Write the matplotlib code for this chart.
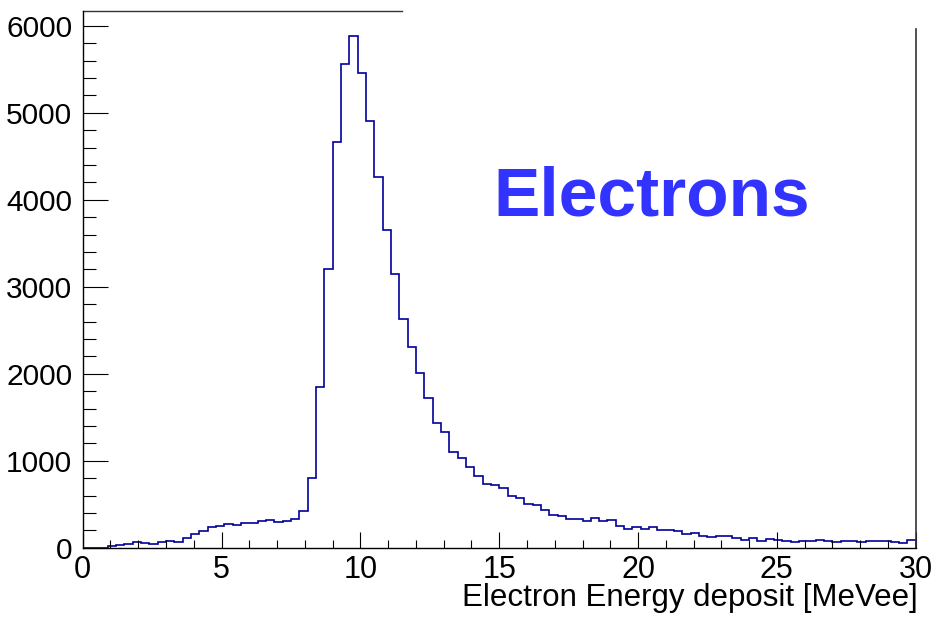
import numpy as np
import matplotlib
matplotlib.use("Agg")
import matplotlib.pyplot as plt
from matplotlib.ticker import MultipleLocator

plt.rcParams['font.family'] = ['Liberation Sans', 'DejaVu Sans']

# histogram: 100 bins from 0 to 30 MeVee
x_min, x_max, n_bins = 0.0, 30.0, 100
counts = [0, 0, 0, 15, 28, 39, 69, 54, 43, 62,
          77, 69, 108, 157, 192, 234, 249, 272, 257, 280,
          280, 310, 313, 295, 307, 333, 425, 805, 1846, 3207,
          4663, 5563, 5880, 5460, 4908, 4257, 3648, 3149, 2625, 2310,
          2011, 1724, 1437, 1330, 1097, 1028, 924, 824, 736, 724,
          690, 594, 575, 499, 491, 432, 376, 368, 326, 326,
          310, 341, 303, 315, 253, 218, 241, 211, 234, 203,
          200, 188, 157, 165, 134, 126, 130, 130, 115, 89,
          108, 80, 96, 89, 80, 62, 77, 80, 85, 73,
          62, 73, 73, 69, 73, 80, 80, 69, 58, 89]
xlabel = "Electron Energy deposit [MeVee]"
label_text = "Electrons"

edges = np.linspace(x_min, x_max, n_bins + 1)
y_max = 1.05 * max(counts)

fig = plt.figure(figsize=(9.33, 6.21), dpi=100)
ax = fig.add_axes([82.7 / 933, 1 - 547.7 / 621, (915.7 - 82.7) / 933, (547.7 - 10.7) / 621])

ax.stairs(counts, edges, color="#000099", linewidth=1.2, baseline=0)

ax.set_xlim(x_min, x_max)
ax.set_ylim(0, y_max)

# frame like the ROOT canvas (top and right partly drawn)
for s in ["top", "right"]:
    ax.spines[s].set_visible(False)
for s in ["left", "bottom"]:
    ax.spines[s].set_linewidth(1.0)
ax.plot([0, 0.383], [1, 1], transform=ax.transAxes, color="#333333", lw=1.0, clip_on=False)
ax.plot([1, 1], [0, 0.966], transform=ax.transAxes, color="#333333", lw=1.2, clip_on=False)

ax.xaxis.set_major_locator(MultipleLocator(5))
ax.xaxis.set_minor_locator(MultipleLocator(1))
ax.yaxis.set_major_locator(MultipleLocator(1000))
ax.yaxis.set_minor_locator(MultipleLocator(200))
ax.tick_params(axis="x", which="major", direction="in", length=11.5, width=0.8, labelsize=22, pad=5, top=False)
ax.tick_params(axis="x", which="minor", direction="in", length=5.8, width=0.8, top=False)
ax.tick_params(axis="y", which="major", direction="in", length=18, width=0.8, labelsize=21.5, pad=7.5, right=False)
ax.tick_params(axis="y", which="minor", direction="in", length=9.4, width=0.8, right=False)

fig.text(918 / 933, 1 - 606 / 621, xlabel, ha="right", va="baseline", fontsize=22.5)
fig.text(493 / 933, 1 - 215 / 621, label_text, ha="left", va="baseline",
         fontsize=50, fontweight="bold", color="#3333ff")

fig.savefig("out.png", dpi=100)
